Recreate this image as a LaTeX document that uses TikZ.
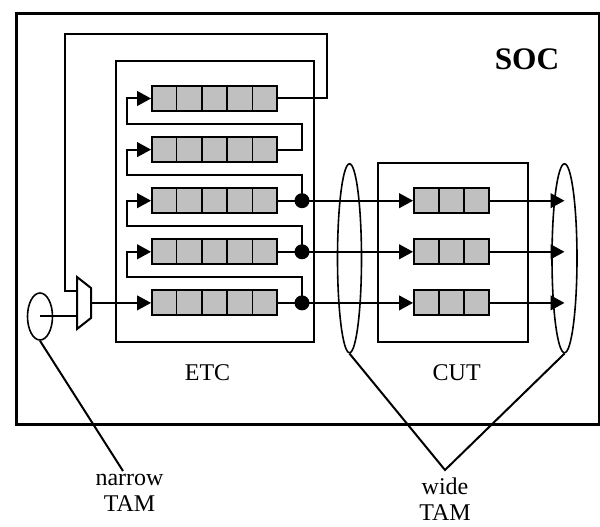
\documentclass[tikz,border=0pt]{standalone}
\usepackage{fontspec}
\setmainfont{Liberation Serif}
\usetikzlibrary{arrows.meta,shapes.geometric,calc}
\definecolor{regfill}{RGB}{192,192,192}
\begin{document}
\begin{tikzpicture}[x=0.75pt,y=-0.75pt,
  wire/.style={line width=1.5pt},
  arr/.style={-{Triangle[length=10.5pt,width=11pt]}},
  reg/.style={draw, fill=regfill, line width=1.4pt, minimum height=18.75pt, inner sep=0pt},
  reg5/.style={reg, minimum width=93.75pt},
  reg3/.style={reg, minimum width=56.25pt},
  box/.style={draw, line width=1.5pt, inner sep=0pt, anchor=north west},
  tam/.style={draw, ellipse, line width=1.2pt, inner sep=0pt},
  dot/.style={circle, fill=black, inner sep=0pt, minimum size=11.25pt},
  lbl/.style={font=\fontsize{18}{19.5}\selectfont, inner sep=0pt},
]
\useasboundingbox (0,0) rectangle (600,527);
% containers
\node[box, line width=2.6pt, minimum width=437.25pt, minimum height=308.25pt] (soc) at (15,12) {};
\node[box, minimum width=148.5pt, minimum height=210.75pt] (etc) at (115,60) {};
\node[box, minimum width=112.5pt, minimum height=134.25pt] (cut) at (377,162) {};
% labels
\node[font=\fontsize{23.5}{27}\selectfont\bfseries, anchor=base, inner sep=0pt] (soclbl) at (527,70) {SOC};
\node[lbl, anchor=base] (etclbl) at (207.5,381) {ETC};
\node[lbl, anchor=base] (cutlbl) at (456.7,380) {CUT};
% registers
\node[reg5] (e1) at (214.5,98.5) {};
\node[reg5] (e2) at (214.5,149.6) {};
\node[reg5] (e3) at (214.5,200.7) {};
\node[reg5] (e4) at (214.5,251.8) {};
\node[reg5] (e5) at (214.5,302.9) {};
\node[reg3] (c1) at (451.5,200.7) {};
\node[reg3] (c2) at (451.5,251.8) {};
\node[reg3] (c3) at (451.5,302.9) {};
\foreach \n/\p in {e1/5,e2/5,e3/5,e4/5,e5/5,c1/3,c2/3,c3/3} {
  \pgfmathtruncatemacro\q{\p-1}
  \foreach \k in {1,...,\q}
    \draw[line width=1.4pt] ($(\n.south west)!{\k/\p}!(\n.south east)$) -- ($(\n.north west)!{\k/\p}!(\n.north east)$);
}
% TAM ellipses
\node[tam, minimum width=18.75pt, minimum height=35.25pt] (nt) at (40,316.5) {};
\node[tam, minimum width=18pt, minimum height=141.75pt] (wl) at (349.5,258.3) {};
\node[tam, minimum width=18.75pt, minimum height=141.75pt] (wr) at (564.5,258.3) {};
% mux
\coordinate (mi1) at (77,291);
\coordinate (mi2) at (77,316.5);
\coordinate (mo) at (91,302.9);
\draw[wire, line join=miter] (77,277) -- (91,288) -- (91,318) -- (77,329) -- cycle;
% dots
\node[dot] (d3) at (302,200.7) {};
\node[dot] (d4) at (302,251.8) {};
\node[dot] (d5) at (302,302.9) {};
% wiring
\draw[wire] (e1.east) -| (327,34) -| (65,291) -- (mi1);
\draw[wire] (nt.center) -- (mi2);
\draw[wire,arr] (mo) -- (e5.west);
\draw[wire,arr] (e2.east) -| (302,124) -- (127,124) |- (e1.west);
\draw[wire,arr] (d3.center) |- (127,175.1) |- (e2.west);
\draw[wire,arr] (d4.center) |- (127,226.2) |- (e3.west);
\draw[wire,arr] (d5.center) |- (127,277.3) |- (e4.west);
\draw[wire,arr] (e3.east) -- (d3.center) -- (c1.west);
\draw[wire,arr] (e4.east) -- (d4.center) -- (c2.west);
\draw[wire,arr] (e5.east) -- (d5.center) -- (c3.west);
\draw[wire,arr] (c1.east) -- (c1.east -| wr.center);
\draw[wire,arr] (c2.east) -- (c2.east -| wr.center);
\draw[wire,arr] (c3.east) -- (c3.east -| wr.center);
% TAM callouts
\coordinate (nte) at (123,471);
\coordinate (apex) at (445,470);
\draw[wire] (nt.south) -- (nte);
\draw[wire] (wl.south) -- (apex) -- (wr.south);
\node[lbl, align=center, anchor=north] (nlab) at (129.5,474) {narrow\\TAM};
\node[lbl, align=center, anchor=north] (wlab) at (445,478) {wide\\TAM};
\end{tikzpicture}
\end{document}
